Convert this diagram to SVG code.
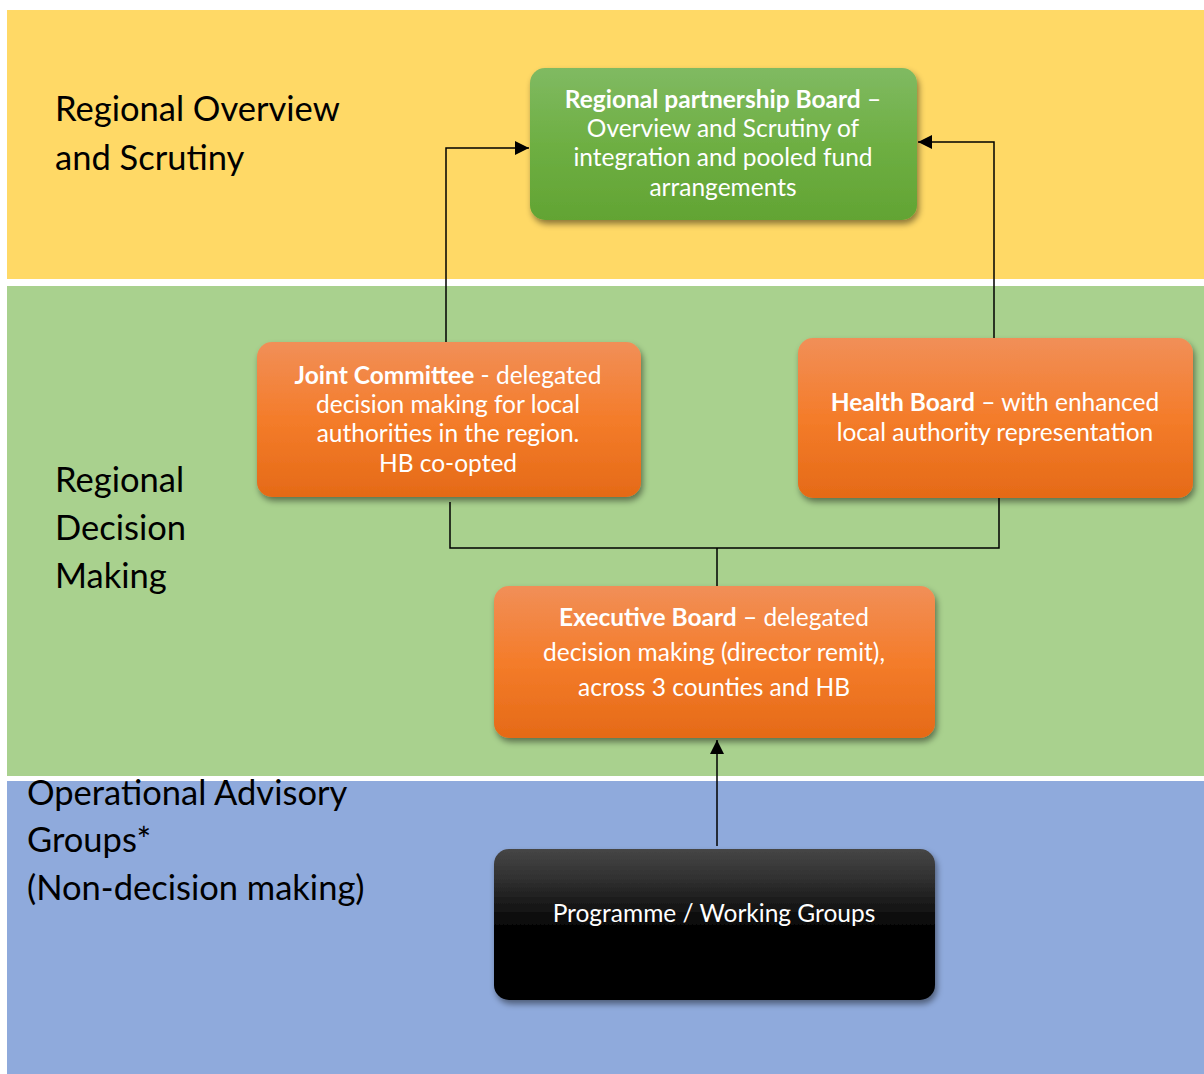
<svg xmlns="http://www.w3.org/2000/svg" width="1204" height="1074" viewBox="0 0 1204 1074">
<defs>
<linearGradient id="gOrange" x1="0" y1="0" x2="0" y2="1">
<stop offset="0" stop-color="#F18F58"/>
<stop offset="0.5" stop-color="#F47C2A"/>
<stop offset="1" stop-color="#E56A17"/>
</linearGradient>
<linearGradient id="gGreen" x1="0" y1="0" x2="0" y2="1">
<stop offset="0" stop-color="#80BA62"/>
<stop offset="0.5" stop-color="#6EAF43"/>
<stop offset="1" stop-color="#62A433"/>
</linearGradient>
<linearGradient id="gBlack" x1="0" y1="0" x2="0" y2="1">
<stop offset="0" stop-color="#464646"/>
<stop offset="0.2" stop-color="#303030"/>
<stop offset="0.4" stop-color="#141414"/>
<stop offset="0.55" stop-color="#000000"/>
<stop offset="1" stop-color="#000000"/>
</linearGradient>
<filter id="shadow" x="-10%" y="-10%" width="125%" height="130%">
<feDropShadow dx="2" dy="4" stdDeviation="3" flood-color="#000" flood-opacity="0.45"/>
</filter>
<marker id="arrow" viewBox="0 0 10 10" refX="10" refY="5" markerWidth="14" markerHeight="14" markerUnits="userSpaceOnUse" orient="auto">
<path d="M0,0 L10,5 L0,10 Z" fill="#000"/>
</marker>
<style>
.band-label { font-family: "Lato", "Liberation Sans", sans-serif; font-size: 34.5px; fill: #000; }
.node-text { font-family: "Lato", "Liberation Sans", sans-serif; font-size: 24.5px; fill: #fff; text-anchor: middle; }
.b { font-weight: bold; }
.conn { fill: none; stroke: #000; stroke-width: 1.5; }
</style>
</defs>

<rect width="1204" height="1074" fill="#fff"/>

<g id="bands">
<rect x="7" y="10" width="1197" height="269" fill="#FFD966"/>
<rect x="7" y="286" width="1197" height="490" fill="#A9D18E"/>
<rect x="7" y="781" width="1197" height="293" fill="#8FAADC"/>
</g>

<g id="band-labels">
<text class="band-label"><tspan x="55" y="121">Regional Overview</tspan><tspan x="55" y="170">and Scrutiny</tspan></text>
<text class="band-label"><tspan x="55" y="492">Regional</tspan><tspan x="55" y="540">Decision</tspan><tspan x="55" y="588">Making</tspan></text>
<text class="band-label"><tspan x="27" y="805">Operational Advisory</tspan><tspan x="27" y="852">Groups*</tspan><tspan x="27" y="900">(Non-decision making)</tspan></text>
</g>

<g id="connectors">
<path class="conn" d="M446,342 V148 H529" marker-end="url(#arrow)"/>
<path class="conn" d="M994,338 V142 H918" marker-end="url(#arrow)"/>
<path class="conn" d="M450,502 V548 H999 V498"/>
<path class="conn" d="M717,548 V586"/>
<path class="conn" d="M717,846 V740" marker-end="url(#arrow)"/>
</g>

<g id="node-rpb">
<rect x="530" y="68" width="387" height="152" rx="15" fill="url(#gGreen)" filter="url(#shadow)"/>
<text class="node-text"><tspan x="723" y="108"><tspan class="b">Regional partnership Board</tspan> –</tspan><tspan x="723" y="137">Overview and Scrutiny of</tspan><tspan x="723" y="166">integration and pooled fund</tspan><tspan x="723" y="196">arrangements</tspan></text>
</g>

<g id="node-jc">
<rect x="257" y="342" width="384" height="155" rx="15" fill="url(#gOrange)" filter="url(#shadow)"/>
<text class="node-text"><tspan x="448" y="384"><tspan class="b">Joint Committee</tspan> - delegated</tspan><tspan x="448" y="413">decision making for local</tspan><tspan x="448" y="442">authorities in the region.</tspan><tspan x="448" y="472">HB co-opted</tspan></text>
</g>

<g id="node-hb">
<rect x="798" y="338" width="395" height="160" rx="15" fill="url(#gOrange)" filter="url(#shadow)"/>
<text class="node-text"><tspan x="995" y="411"><tspan class="b">Health Board</tspan> – with enhanced</tspan><tspan x="995" y="441">local authority representation</tspan></text>
</g>

<g id="node-eb">
<rect x="494" y="586" width="441" height="152" rx="15" fill="url(#gOrange)" filter="url(#shadow)"/>
<text class="node-text"><tspan x="714" y="626"><tspan class="b">Executive Board</tspan> – delegated</tspan><tspan x="714" y="661">decision making (director remit),</tspan><tspan x="714" y="696">across 3 counties and HB</tspan></text>
</g>

<g id="node-pwg">
<rect x="494" y="849" width="441" height="151" rx="15" fill="url(#gBlack)" filter="url(#shadow)"/>
<text class="node-text"><tspan x="714" y="922">Programme / Working Groups</tspan></text>
</g>
</svg>
